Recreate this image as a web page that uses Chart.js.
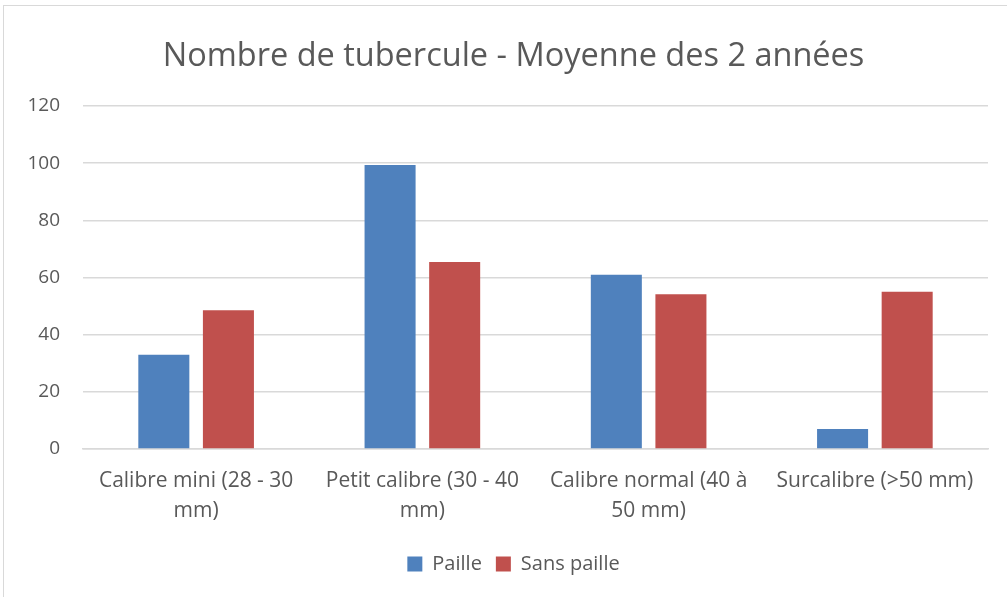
<!DOCTYPE html>
<html>
<head>
<meta charset="utf-8">
<script src="https://cdn.jsdelivr.net/npm/chart.js@4.4.0/dist/chart.umd.min.js"></script>
<style>
  html, body { margin: 0; padding: 0; background: #fff; overflow: hidden; }
  #frame { position: absolute; left: 3px; top: 5px; width: 1010px; height: 600px; border: 1px solid #d9d9d9; box-sizing: border-box; }
  #wrap { position: absolute; left: 0; top: 0; width: 1007px; height: 597px; }
</style>
</head>
<body>
<div id="frame"></div>
<div id="wrap"><canvas id="chart"></canvas></div>
<script>
const categories = [
  ['Calibre mini (28 - 30', 'mm)'],
  ['Petit calibre (30 - 40', 'mm)'],
  ['Calibre normal (40 à', '50 mm)'],
  ['Surcalibre (>50 mm)']
];
const paille = [33, 99.4, 61, 7];
const sansPaille = [48.5, 65.4, 54.1, 55];

const textColor = '#595959';
const fontFamily = "'Open Sans', 'Liberation Sans', sans-serif";

const ctx = document.getElementById('chart');
new Chart(ctx, {
  type: 'bar',
  data: {
    labels: categories,
    datasets: [
      { label: 'Paille', data: paille, backgroundColor: '#4F81BD', borderWidth: 0 },
      { label: 'Sans paille', data: sansPaille, backgroundColor: '#C0504D', borderWidth: 0 }
    ]
  },
  options: {
    responsive: true,
    maintainAspectRatio: false,
    animation: false,
    categoryPercentage: 0.571,
    barPercentage: 0.79,
    // left padding + narrow y axis so title/legend centre like the original
    layout: { padding: { left: 39, right: 19, top: 20, bottom: 13 } },
    plugins: {
      title: {
        display: true,
        text: 'Nombre de tubercule - Moyenne des 2 années',
        color: textColor,
        font: { family: fontFamily, size: 32.5, weight: 'normal' },
        padding: { top: 17, bottom: 30 }
      },
      legend: {
        position: 'bottom',
        labels: {
          color: textColor,
          font: { family: fontFamily, size: 20 },
          boxWidth: 15,
          boxHeight: 15,
          padding: 14
        }
      },
      tooltip: { enabled: false }
    },
    scales: {
      x: {
        afterFit: (scale) => { scale.height = 91; },
        grid: { display: false },
        border: { color: '#d9d9d9', width: 1.5 },
        ticks: {
          color: textColor,
          font: { family: fontFamily, size: 21, lineHeight: 1.43 },
          maxRotation: 0,
          autoSkip: false,
          padding: 9
        }
      },
      y: {
        min: 0,
        max: 120,
        afterFit: (scale) => {
          scale.width = 44;
          // labels spill into the left padding, so don't clip them to the axis box
          scale._computeLabelArea = () => undefined;
        },
        border: { display: false },
        grid: { color: '#d9d9d9', lineWidth: 1.5, drawTicks: false },
        ticks: {
          stepSize: 20,
          color: textColor,
          font: { family: fontFamily, size: 19 },
          padding: 23
        }
      }
    }
  }
});
</script>
</body>
</html>
